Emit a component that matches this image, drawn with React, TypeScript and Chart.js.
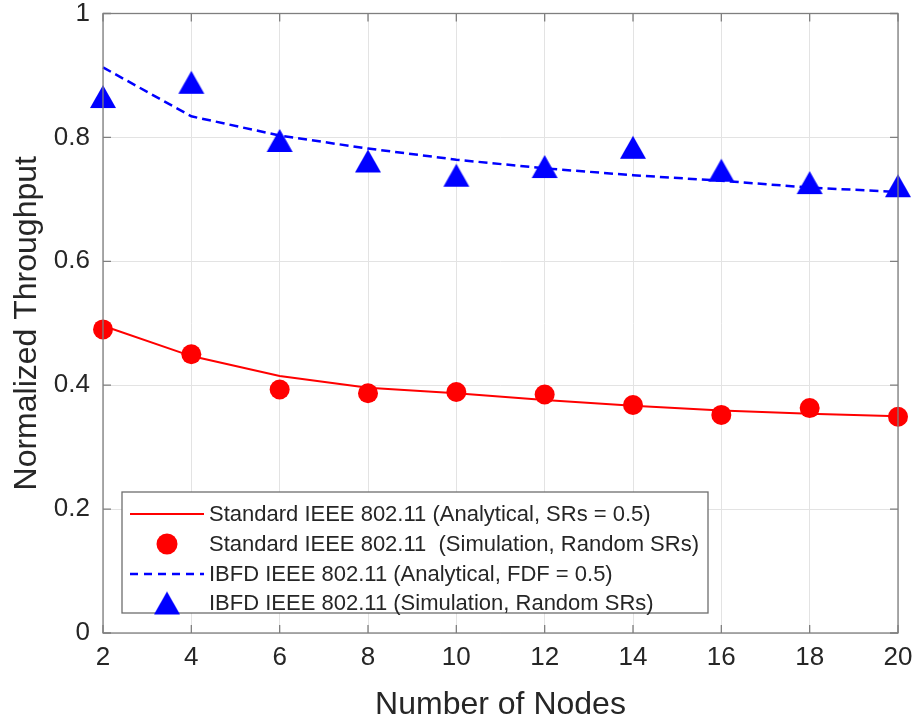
import React, { useEffect, useRef } from "react";
import { Chart, registerables } from "chart.js";

Chart.register(...registerables);

// ---- data ----
const nodes = [2, 4, 6, 8, 10, 12, 14, 16, 18, 20];
const stdAnalytical = [0.496, 0.447, 0.415, 0.396, 0.387, 0.376, 0.367, 0.359, 0.354, 0.35];
const stdSimulation = [0.49, 0.45, 0.393, 0.387, 0.389, 0.385, 0.368, 0.352, 0.363, 0.349];
const ibfdAnalytical = [0.913, 0.834, 0.803, 0.782, 0.764, 0.75, 0.739, 0.73, 0.719, 0.712];
const ibfdSimulation = [0.866, 0.889, 0.795, 0.762, 0.739, 0.753, 0.784, 0.747, 0.727, 0.722];
const xTickValues = [2, 4, 6, 8, 10, 12, 14, 16, 18, 20];
const yTickValues = [0, 0.2, 0.4, 0.6, 0.8, 1];
const yTickLabels = ["0", "0.2", "0.4", "0.6", "0.8", "1"];
const legendLabels = [
  "Standard IEEE 802.11 (Analytical, SRs = 0.5)",
  "Standard IEEE 802.11  (Simulation, Random SRs)",
  "IBFD IEEE 802.11 (Analytical, FDF = 0.5)",
  "IBFD IEEE 802.11 (Simulation, Random SRs)",
];
const xTitle = "Number of Nodes";
const yTitle = "Normalized Throughput";

const RED = "#ff0000";
const BLUE = "#0000ff";
const TEXT = "#262626";
const AXIS = "#7f7f7f";
const GRID = "#e3e3e3";
const FONT = "'Liberation Sans', Arial, Helvetica, sans-serif";

function makeTriangle(): HTMLCanvasElement {
  const c = document.createElement("canvas");
  c.width = 28;
  c.height = 25;
  const g = c.getContext("2d")!;
  g.fillStyle = BLUE;
  g.beginPath();
  g.moveTo(14, 1);
  g.lineTo(27, 24);
  g.lineTo(1, 24);
  g.closePath();
  g.fill();
  return c;
}

export default function App() {
  const ref = useRef<HTMLCanvasElement | null>(null);

  useEffect(() => {
    if (!ref.current) return;
    const tri = makeTriangle();

    const framePlugin = {
      id: "frame",
      afterDatasetsDraw(chart: any) {
        const { ctx, chartArea: a } = chart;
        const xs = chart.scales.x;
        const ys = chart.scales.y;
        ctx.save();
        ctx.strokeStyle = AXIS;
        ctx.lineWidth = 1.3;
        ctx.strokeRect(a.left, a.top, a.right - a.left, a.bottom - a.top);
        const tl = 8;
        ctx.beginPath();
        for (const v of xTickValues) {
          const px = xs.getPixelForValue(v);
          ctx.moveTo(px, a.bottom);
          ctx.lineTo(px, a.bottom - tl);
          ctx.moveTo(px, a.top);
          ctx.lineTo(px, a.top + tl);
        }
        for (const v of yTickValues) {
          const py = ys.getPixelForValue(v);
          ctx.moveTo(a.left, py);
          ctx.lineTo(a.left + tl, py);
          ctx.moveTo(a.right, py);
          ctx.lineTo(a.right - tl, py);
        }
        ctx.stroke();

        // legend
        const bx = 122, by = 492, bw = 586, bh = 121;
        ctx.fillStyle = "#ffffff";
        ctx.fillRect(bx, by, bw, bh);
        ctx.strokeStyle = "#6e6e6e";
        ctx.lineWidth = 1.3;
        ctx.strokeRect(bx, by, bw, bh);
        const rows = [514, 544, 574, 603];
        const x0 = 130, x1 = 204, mx = 167, tx = 209;
        ctx.font = `22px ${FONT}`;
        ctx.textBaseline = "middle";
        ctx.textAlign = "left";
        rows.forEach((ry, i) => {
          if (i === 0 || i === 2) {
            ctx.beginPath();
            ctx.strokeStyle = i === 0 ? RED : BLUE;
            ctx.lineWidth = i === 0 ? 2 : 2.5;
            ctx.setLineDash(i === 0 ? [] : [8, 6]);
            ctx.moveTo(x0, ry);
            ctx.lineTo(x1, ry);
            ctx.stroke();
            ctx.setLineDash([]);
          } else if (i === 1) {
            ctx.beginPath();
            ctx.fillStyle = RED;
            ctx.arc(mx, ry, 10.5, 0, Math.PI * 2);
            ctx.fill();
          } else {
            ctx.drawImage(tri, mx - 14, ry - 12.5);
          }
          ctx.fillStyle = TEXT;
          ctx.fillText(legendLabels[i], tx, ry + 1);
        });
        ctx.restore();
      },
    };

    const chart = new Chart(ref.current, {
      type: "line",
      data: {
        datasets: [
          {
            label: legendLabels[0],
            data: nodes.map((n, i) => ({ x: n, y: stdAnalytical[i] })),
            borderColor: RED,
            borderWidth: 2,
            pointRadius: 0,
            fill: false,
            clip: false as any,
          },
          {
            label: legendLabels[1],
            data: nodes.map((n, i) => ({ x: n, y: stdSimulation[i] })),
            showLine: false,
            pointStyle: "circle",
            pointRadius: 10,
            pointBackgroundColor: RED,
            pointBorderColor: RED,
            pointBorderWidth: 0,
            clip: false as any,
          },
          {
            label: legendLabels[2],
            data: nodes.map((n, i) => ({ x: n, y: ibfdAnalytical[i] })),
            borderColor: BLUE,
            borderWidth: 2.5,
            borderDash: [9, 5],
            pointRadius: 0,
            fill: false,
            clip: false as any,
          },
          {
            label: legendLabels[3],
            data: nodes.map((n, i) => ({ x: n, y: ibfdSimulation[i] })),
            showLine: false,
            pointStyle: tri as any,
            pointRadius: 12,
            clip: false as any,
          },
        ],
      },
      options: {
        animation: false,
        responsive: false,
        events: [],
        layout: { padding: { left: 0, right: 21, top: 13.5, bottom: 0 } },
        plugins: { legend: { display: false }, tooltip: { enabled: false } },
        scales: {
          x: {
            type: "linear",
            min: 2,
            max: 20,
            afterBuildTicks: (s: any) => {
              s.ticks = xTickValues.map((v) => ({ value: v }));
            },
            afterFit: (s: any) => {
              s.height = 92;
              s.paddingLeft = 0;
              s.paddingRight = 0;
            },
            grid: { color: GRID, lineWidth: 1, drawTicks: false },
            border: { display: false },
            ticks: {
              color: TEXT,
              font: { family: FONT, size: 26, lineHeight: 1 },
              padding: 12,
              maxRotation: 0,
              callback: (v: any) => String(v),
            },
            title: {
              display: true,
              text: xTitle,
              color: TEXT,
              font: { family: FONT, size: 32, lineHeight: 1.2 },
              padding: { top: 0, bottom: 1 },
            },
          },
          y: {
            type: "linear",
            min: 0,
            max: 1,
            afterBuildTicks: (s: any) => {
              s.ticks = yTickValues.map((v) => ({ value: v }));
            },
            afterFit: (s: any) => {
              s.width = 103;
              s.paddingTop = 0;
              s.paddingBottom = 0;
            },
            grid: { color: GRID, lineWidth: 1, drawTicks: false },
            border: { display: false },
            ticks: {
              color: TEXT,
              font: { family: FONT, size: 26, lineHeight: 1 },
              padding: 13,
              callback: (v: any) => {
                const i = yTickValues.findIndex((t) => Math.abs(t - v) < 1e-9);
                return i >= 0 ? yTickLabels[i] : "";
              },
            },
            title: {
              display: true,
              text: yTitle,
              color: TEXT,
              font: { family: FONT, size: 32, lineHeight: 1.2 },
              padding: { top: 8, bottom: 0 },
            },
          },
        },
      },
      plugins: [framePlugin],
    });
    return () => chart.destroy();
  }, []);

  return (
    <div style={{ position: "fixed", left: 0, top: 0, width: 919, height: 725, background: "#ffffff" }}>
      <canvas ref={ref} width={919} height={725} style={{ width: 919, height: 725, display: "block" }} />
    </div>
  );
}
